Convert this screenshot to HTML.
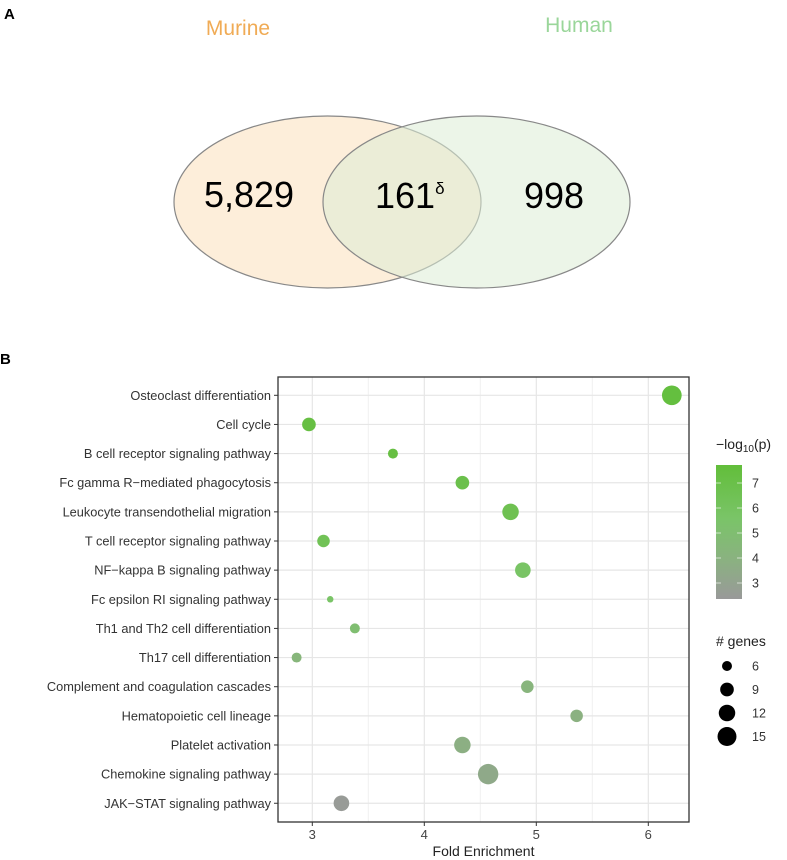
<!DOCTYPE html>
<html><head><meta charset="utf-8"><style>
body{margin:0;background:#fff;}
svg{display:block;font-family:"Liberation Sans",Arial,sans-serif;}
</style></head><body>
<svg id="root" width="787" height="860" viewBox="0 0 787 860" xmlns="http://www.w3.org/2000/svg">
<text x="4" y="19" font-size="15" font-weight="bold">A</text>
<text x="238" y="35" font-size="21" fill="#f0ab55" text-anchor="middle">Murine</text>
<text x="579" y="32" font-size="21" fill="#9ad69a" text-anchor="middle">Human</text>
<ellipse cx="327.5" cy="202" rx="153.5" ry="86" fill="#fdebd3" fill-opacity="0.85" stroke="#888" stroke-width="1.2"/>
<ellipse cx="476.5" cy="202" rx="153.5" ry="86" fill="#dcecd6" fill-opacity="0.55" stroke="#888" stroke-width="1.2"/>
<text x="249" y="207" font-size="36" text-anchor="middle">5,829</text>
<text x="375" y="208" font-size="36">161<tspan font-size="17" dy="-14">δ</tspan></text>
<text x="554" y="208" font-size="36" text-anchor="middle">998</text>
<text x="0" y="364" font-size="15" font-weight="bold">B</text>
<g id="chart"></g>
</svg>
<script>
const categories=["Osteoclast differentiation","Cell cycle","B cell receptor signaling pathway","Fc gamma R\u2212mediated phagocytosis","Leukocyte transendothelial migration","T cell receptor signaling pathway","NF\u2212kappa B signaling pathway","Fc epsilon RI signaling pathway","Th1 and Th2 cell differentiation","Th17 cell differentiation","Complement and coagulation cascades","Hematopoietic cell lineage","Platelet activation","Chemokine signaling pathway","JAK\u2212STAT signaling pathway"];
const foldEnrichment=[6.21,2.97,3.72,4.34,4.77,3.10,4.88,3.16,3.38,2.86,4.92,5.36,4.34,4.57,3.26];
const negLogP=[7.5,7.3,7.3,6.9,6.6,6.4,5.7,5.6,5.0,4.3,4.2,3.9,3.8,3.4,2.5];
const geneCounts=[16,9,6,9,12,8,11,4,6,6,8,8,12,17,11];
const xTicks=[3,4,5,6];
const colorTicks=[3,4,5,6,7];
const sizeLegend=[6,9,12,15];

const NS="http://www.w3.org/2000/svg";
const g=document.getElementById('chart');
const L=278,R=689,T=377,B=822;
const xs=v=>312.3+(v-3)*112;
const ys=i=>395.3+i*29.14;
const rs=n=>Math.sqrt(Math.max(4,-18.3+7.2*n));
const cmin=2.36,cmax=7.72;
const stops=[[0,[153,153,153]],[0.3,[138,178,128]],[0.6,[122,196,104]],[1,[98,190,58]]];
function col(v){let t=(v-cmin)/(cmax-cmin);t=Math.max(0,Math.min(1,t));
 let k=0;while(k<stops.length-2&&t>stops[k+1][0])k++;
 const [t0,a]=stops[k],[t1,b]=stops[k+1];const u=(t-t0)/(t1-t0);
 return `rgb(${a.map((c,j)=>Math.round(c+(b[j]-c)*u)).join(',')})`;}
function el(tag,attrs,parent){const e=document.createElementNS(NS,tag);for(const k in attrs)e.setAttribute(k,attrs[k]);(parent||g).appendChild(e);return e;}
let e;
e=el('rect',{x:L,y:T,width:R-L,height:B-T,fill:'#fff'});


for(let v=2.5;v<=6.5;v+=1){const x=xs(v);if(x<L||x>R)continue;e=el('line',{x1:x,x2:x,y1:T,y2:B,stroke:'#f0f0f0','stroke-width':1});

}
xTicks.forEach(v=>{const x=xs(v);e=el('line',{x1:x,x2:x,y1:T,y2:B,stroke:'#e6e6e6','stroke-width':1.2});


e=el('line',{x1:x,x2:x,y1:B,y2:B+4,stroke:'#333'});


e=el('text',{x:x,y:B+17,'font-size':13,fill:'#444','text-anchor':'middle'});e.textContent=v;

});
categories.forEach((c,i)=>{const y=ys(i);
e=el('line',{x1:L,x2:R,y1:y,y2:y,stroke:'#e6e6e6','stroke-width':1.2});


e=el('line',{x1:L-4,x2:L,y1:y,y2:y,stroke:'#333'});


e=el('text',{x:L-7,y:y+4.5,'font-size':12.8,fill:'#333','text-anchor':'end'});e.textContent=c;

});
categories.forEach((c,i)=>{e=el('circle',{cx:xs(foldEnrichment[i]),cy:ys(i),r:rs(geneCounts[i]),fill:col(negLogP[i])});

});
e=el('rect',{x:L,y:T,width:R-L,height:B-T,fill:'none',stroke:'#333','stroke-width':1.3});


e=el('text',{x:(L+R)/2,y:B+34,'font-size':14,fill:'#222','text-anchor':'middle'});e.textContent='Fold Enrichment';


e=el('text',{x:716,y:449,'font-size':14,fill:'#222'});e.innerHTML='\u2212log<tspan font-size="10" dy="3">10</tspan><tspan dy="-3">(p)</tspan>';


const defs=el('defs',{});const lg=el('linearGradient',{id:'cg',x1:0,y1:1,x2:0,y2:0},defs);
stops.forEach(s=>el('stop',{offset:s[0],'stop-color':`rgb(${s[1].join(',')})`},lg));
const cy=v=>465+(cmax-v)*25;
e=el('rect',{x:716,y:cy(cmax),width:26,height:cy(cmin)-cy(cmax),fill:'url(#cg)'});


colorTicks.forEach(v=>{const y=cy(v);
el('line',{x1:716,x2:721,y1:y,y2:y,stroke:'#fff','stroke-opacity':0.6});el('line',{x1:737,x2:742,y1:y,y2:y,stroke:'#fff','stroke-opacity':0.6});
e=el('text',{x:752,y:y+4.5,'font-size':12.5,fill:'#333'});e.textContent=v;

});
e=el('text',{x:716,y:646,'font-size':14,fill:'#222'});e.textContent='# genes';


sizeLegend.forEach((n,i)=>{const y=666+i*23.5;
e=el('circle',{cx:727,cy:y,r:rs(n),fill:'#000'});


e=el('text',{x:752,y:y+4.5,'font-size':12.5,fill:'#333'});e.textContent=n;

});
</script>
</body></html>
